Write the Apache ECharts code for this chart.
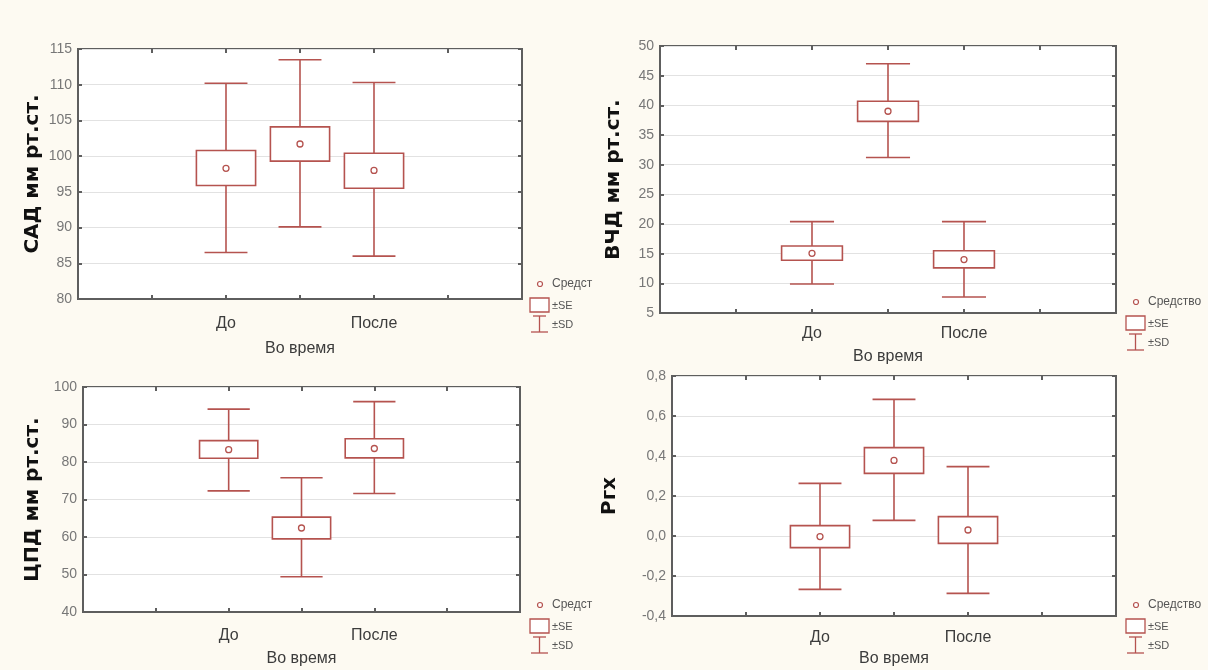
<!DOCTYPE html>
<html>
<head>
<meta charset="utf-8">
<script src="https://cdn.jsdelivr.net/npm/echarts@6/dist/echarts.min.js"></script>
<style>
html,body{margin:0;padding:0;background:#fdfaf2;}
#chart{width:1208px;height:670px;}
</style>
</head>
<body>
<div id="chart"></div>
<script>
// ---- data ----
const categories = ['До', 'Во время', 'После'];
const catPositions = [2, 3, 4];

// each row: [mean - SD, mean - SE, mean, mean + SE, mean + SD]
const sad = [
  [86.5, 95.9, 98.3, 100.8, 110.2],
  [90.1, 99.3, 101.7, 104.1, 113.5],
  [86.0, 95.5, 98.0, 100.4, 110.3]
];
const vchd = [
  [9.9, 13.9, 15.05, 16.3, 20.4],
  [31.2, 37.3, 39.0, 40.7, 47.0],
  [7.7, 12.6, 14.0, 15.5, 20.4]
];
const cpd = [
  [72.3, 81.0, 83.3, 85.7, 94.1],
  [49.4, 59.5, 62.4, 65.3, 75.8],
  [71.6, 81.1, 83.6, 86.2, 96.1]
];
const prx = [
  [-0.267, -0.058, -0.003, 0.052, 0.263],
  [0.078, 0.313, 0.378, 0.442, 0.683],
  [-0.287, -0.037, 0.030, 0.097, 0.347]
];

const yNames = ['САД мм рт.ст.', 'ВЧД мм рт.ст.', 'ЦПД мм рт.ст.', 'Ргх'];
const yMin = [80, 5, 40, -0.4];
const yMax = [115, 50, 100, 0.8];
const yStep = [5, 5, 10, 0.2];
const legendMean = ['Средст', 'Средство', 'Средст', 'Средство'];
const legendSE = '±SE';
const legendSD = '±SD';

// ---- layout ----
const RED = '#b5534f';
const FRAME = '#5e5e5e';
const panelData = [sad, vchd, cpd, prx];
const grids = [
  {left: 78, top: 49, width: 444, height: 250},
  {left: 660, top: 46, width: 456, height: 267},
  {left: 83, top: 387, width: 437, height: 231},
  {left: 672, top: 376, width: 444, height: 240}
];
const nameGaps = [35, 36, 40, 52];
const labelMargins = [12, 9, 12, 11];
const labelLineHeights = [25, 23, 23, 21];
const legendOrigins = [[530, 284], [1126, 302], [530, 605], [1126, 605]];

function renderItem(params, api) {
  const x = api.value(0);
  const sdLo = api.coord([x, api.value(1)]);
  const seLo = api.coord([x, api.value(2)]);
  const mean = api.coord([x, api.value(3)]);
  const seHi = api.coord([x, api.value(4)]);
  const sdHi = api.coord([x, api.value(5)]);
  const unit = api.size([1, 0])[0];
  const bw = unit * 0.4, cw = unit * 0.29;
  const ls = {stroke: RED, lineWidth: 1.6, fill: null};
  return {
    type: 'group',
    children: [
      {type: 'line', shape: {x1: sdLo[0], y1: sdLo[1], x2: sdHi[0], y2: sdHi[1]}, style: ls},
      {type: 'line', shape: {x1: sdLo[0] - cw, y1: sdLo[1], x2: sdLo[0] + cw, y2: sdLo[1]}, style: ls},
      {type: 'line', shape: {x1: sdHi[0] - cw, y1: sdHi[1], x2: sdHi[0] + cw, y2: sdHi[1]}, style: ls},
      {type: 'rect', shape: {x: seHi[0] - bw, y: seHi[1], width: 2 * bw, height: seLo[1] - seHi[1]},
        style: {stroke: RED, lineWidth: 1.6, fill: '#ffffff'}},
      {type: 'circle', shape: {cx: mean[0], cy: mean[1], r: 3},
        style: {stroke: RED, lineWidth: 1.3, fill: '#ffffff'}}
    ]
  };
}

const sans = "'Liberation Sans', Arial, sans-serif";
const tickStyle = {inside: true, length: 4, lineStyle: {color: FRAME, width: 2}};

const mainX = grids.map((g, i) => ({
  gridIndex: i,
  type: 'value',
  min: 0, max: 6, interval: 1,
  splitLine: {show: false},
  axisLine: {onZero: false, lineStyle: {color: FRAME, width: 2}},
  axisTick: tickStyle,
  axisLabel: {
    margin: labelMargins[i],
    fontFamily: sans, fontSize: 16, color: '#3c3c3c', lineHeight: labelLineHeights[i],
    formatter: v => {
      const k = catPositions.indexOf(v);
      if (k < 0) return '';
      return k === 1 ? '\n' + categories[k] : categories[k];
    }
  }
}));
const topX = grids.map((g, i) => ({
  gridIndex: i, type: 'value', position: 'top',
  min: 0, max: 6, interval: 1,
  splitLine: {show: false}, axisLabel: {show: false},
  axisLine: {show: false, onZero: false}, axisTick: tickStyle
}));
const mainY = grids.map((g, i) => ({
  gridIndex: i,
  type: 'value',
  min: yMin[i], max: yMax[i], interval: yStep[i],
  name: yNames[i],
  nameLocation: 'middle',
  nameRotate: 90,
  nameGap: nameGaps[i],
  nameTextStyle: {fontFamily: "'DejaVu Sans', sans-serif", fontWeight: 'bold', fontSize: 20, color: '#111'},
  axisLine: {show: true, onZero: false, lineStyle: {color: FRAME, width: 2}},
  axisTick: Object.assign({show: true}, tickStyle),
  splitLine: {show: true, lineStyle: {color: '#e2e2e2', width: 1}},
  axisLabel: {
    margin: 6,
    fontFamily: sans, fontSize: 14, color: '#777',
    formatter: v => (yStep[i] < 1 ? v.toFixed(1).replace('.', ',') : String(v))
  }
}));
const rightY = grids.map((g, i) => ({
  gridIndex: i, type: 'value', position: 'right',
  min: yMin[i], max: yMax[i], interval: yStep[i],
  splitLine: {show: false}, axisLabel: {show: false},
  axisLine: {show: false, onZero: false}, axisTick: Object.assign({show: true}, tickStyle)
}));

const option = {
  backgroundColor: '#fdfaf2',
  animation: false,
  grid: grids.map(g => Object.assign({show: true, backgroundColor: '#ffffff', borderColor: FRAME, borderWidth: 2}, g)),
  xAxis: mainX.concat(topX),
  yAxis: mainY.concat(rightY),
  series: panelData.map((rows, i) => ({
    type: 'custom',
    xAxisIndex: i, yAxisIndex: i,
    renderItem: renderItem,
    encode: {x: 0, y: [1, 2, 3, 4, 5]},
    data: rows.map((r, k) => [catPositions[k]].concat(r))
  })),
  graphic: legendOrigins.map((o, i) => ({
    type: 'group',
    x: o[0], y: o[1],
    children: [
      {type: 'circle', shape: {cx: 10, cy: 0, r: 2.5}, style: {stroke: RED, lineWidth: 1.2, fill: '#fff'}},
      {type: 'text', x: 22, y: 0, style: {text: legendMean[i], font: "12px " + sans, fill: '#555', verticalAlign: 'middle'}},
      {type: 'rect', shape: {x: 0, y: 14, width: 19, height: 14}, style: {stroke: RED, lineWidth: 1.3, fill: '#fff'}},
      {type: 'text', x: 22, y: 22, style: {text: legendSE, font: "11px " + sans, fill: '#555', verticalAlign: 'middle'}},
      {type: 'line', shape: {x1: 3, y1: 32, x2: 16, y2: 32}, style: {stroke: RED, lineWidth: 1.3}},
      {type: 'line', shape: {x1: 9.5, y1: 32, x2: 9.5, y2: 48}, style: {stroke: RED, lineWidth: 1.3}},
      {type: 'line', shape: {x1: 1, y1: 48, x2: 18, y2: 48}, style: {stroke: RED, lineWidth: 1.3}},
      {type: 'text', x: 22, y: 41, style: {text: legendSD, font: "11px " + sans, fill: '#555', verticalAlign: 'middle'}}
    ]
  }))
};

const chart = echarts.init(document.getElementById('chart'), null, {renderer: 'canvas'});
chart.setOption(option);
</script>
</body>
</html>
